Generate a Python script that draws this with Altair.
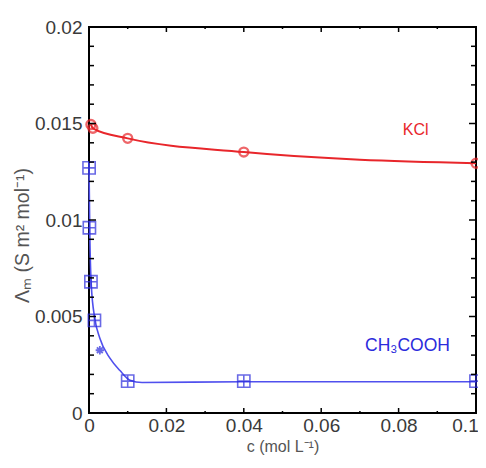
import altair as alt
import pandas as pd

# --- data ---
kcl_c = [0.0005, 0.001, 0.01, 0.04, 0.1]
kcl_v = [0.01495, 0.01475, 0.01423, 0.01352, 0.01294]

ac_c = [0.00002, 0.0001, 0.0005, 0.0014, 0.01, 0.04, 0.1]
ac_v = [0.0127, 0.0096, 0.0068, 0.0048, 0.00165, 0.00165, 0.00165]
ac_star_c = [0.0028]
ac_star_v = [0.00325]

# smooth fitted curve for CH3COOH as drawn
fit_c = [0.0, 0.00005, 0.0002, 0.0006, 0.0015, 0.0028, 0.0054, 0.008, 0.0106, 0.0137, 0.04, 0.1]
fit_v = [0.0130, 0.0120, 0.0094, 0.0066, 0.0049, 0.00387, 0.00284, 0.0022, 0.0017, 0.00158, 0.00162, 0.00162]

x_major = [0, 0.02, 0.04, 0.06, 0.08, 0.1]
x_minor = [0.01, 0.03, 0.05, 0.07, 0.09]
y_major = [0, 0.005, 0.01, 0.015, 0.02]
y_minor = [i / 1000 for i in range(21) if i % 5 != 0]

W, H = 387, 386
RED = "#e8262b"
BLUE = "#2b2bdc"
BLUE_LINE = "#5050ee"

xs = alt.Scale(domain=[0, 0.1], nice=False, zero=False)
ys = alt.Scale(domain=[0, 0.02], nice=False, zero=False)

kcl = pd.DataFrame({"c": kcl_c, "v": kcl_v})
ac = pd.DataFrame({"c": ac_c, "v": ac_v})
star = pd.DataFrame({"c": ac_star_c, "v": ac_star_v})
fit = pd.DataFrame({"c": fit_c, "v": fit_v})

xaxis = alt.Axis(title="c (mol L⁻¹)", values=x_major, format="~g", ticks=False, domain=False,
                 grid=False, labelFontSize=19, labelFont="Liberation Sans",
                 labelColor="#3a3a3a", labelPadding=3, labelFlush=False,
                 labelOffset={"condition": {"test": "datum.value >= 0.099", "value": -11}, "value": 0},
                 titleFontSize=16, titleFont="Liberation Sans", titleColor="#555",
                 titleFontWeight="normal", titlePadding=3)
yaxis = alt.Axis(title="Λₘ (S m² mol⁻¹)", values=y_major, format="~g", ticks=False, domain=False,
                 grid=False, labelFontSize=19, labelFont="Liberation Sans",
                 labelColor="#3a3a3a", labelPadding=7, labelFlush=False,
                 titleFontSize=19.5, titleFont="Liberation Sans", titleColor="#555",
                 titleFontWeight="normal", titleX=-67, titleY=208,
                 titleAlign="center", titleBaseline="middle")
X = alt.X("c:Q", scale=xs, axis=xaxis)
Y = alt.Y("v:Q", scale=ys, axis=yaxis)

kcl_line = alt.Chart(kcl).mark_line(color=RED, strokeWidth=2, interpolate="monotone").encode(x=X, y=Y)
kcl_pts = alt.Chart(kcl).mark_point(shape="circle", size=80, filled=False, color=RED,
                                     strokeWidth=2.4).encode(x=X, y=Y)

ac_line = alt.Chart(fit).mark_line(color=BLUE_LINE, strokeWidth=1.6, interpolate="monotone").encode(x=X, y=Y)
sq = "M-1,-1L1,-1L1,1L-1,1ZM-1,0L1,0M0,-1L0,1"
ac_pts = alt.Chart(ac).mark_point(shape=sq, size=150, filled=False, color=BLUE,
                                  strokeWidth=1.6).encode(x=X, y=Y)
ast = "M-1,0L1,0M0,-1L0,1M-0.7,-0.7L0.7,0.7M-0.7,0.7L0.7,-0.7"
star_pts = alt.Chart(star).mark_point(shape=ast, size=70, filled=False, color=BLUE,
                                      strokeWidth=1.8).encode(x=X, y=Y)

lbl_kcl = alt.Chart(pd.DataFrame({"t": ["KCl"]})).mark_text(
    color=RED, fontSize=16, font="Liberation Sans", align="center", baseline="middle"
).encode(x=alt.datum(0.0844), y=alt.datum(0.01464), text="t:N")
lbl_ac = alt.Chart(pd.DataFrame({"t": ["CH₃COOH"]})).mark_text(
    color=BLUE, fontSize=17.5, font="Liberation Sans", align="center", baseline="middle"
).encode(x=alt.datum(0.0823), y=alt.datum(0.00345), text="t:N")

def xticks(vals, length):
    d = pd.DataFrame({"c": vals})
    b = alt.Chart(d).mark_rule(color="black", strokeWidth=1.5).encode(
        x=X, y=alt.value(H), y2=alt.value(H - length))
    t = alt.Chart(d).mark_rule(color="black", strokeWidth=1.5).encode(
        x=X, y=alt.value(0), y2=alt.value(length))
    return [b, t]

def yticks(vals, length):
    d = pd.DataFrame({"v": vals})
    l = alt.Chart(d).mark_rule(color="black", strokeWidth=1.5).encode(
        y=Y, x=alt.value(0), x2=alt.value(length))
    r = alt.Chart(d).mark_rule(color="black", strokeWidth=1.5).encode(
        y=Y, x=alt.value(W), x2=alt.value(W - length))
    return [l, r]

layers = [kcl_line, ac_line, kcl_pts, ac_pts, star_pts, lbl_kcl, lbl_ac]
layers += xticks(x_major, 5) + xticks(x_minor, 2)
layers += yticks(y_major, 7) + yticks(y_minor, 5)

chart = alt.layer(*layers).properties(
    width=W, height=H,
    autosize=alt.AutoSizeParams(type="none"),
    padding={"left": 81, "top": 19, "right": 2, "bottom": 43},
    background="white",
).configure_view(stroke="black", strokeWidth=2)

chart.save("out.html", embed_options={"renderer": "svg", "actions": False})
